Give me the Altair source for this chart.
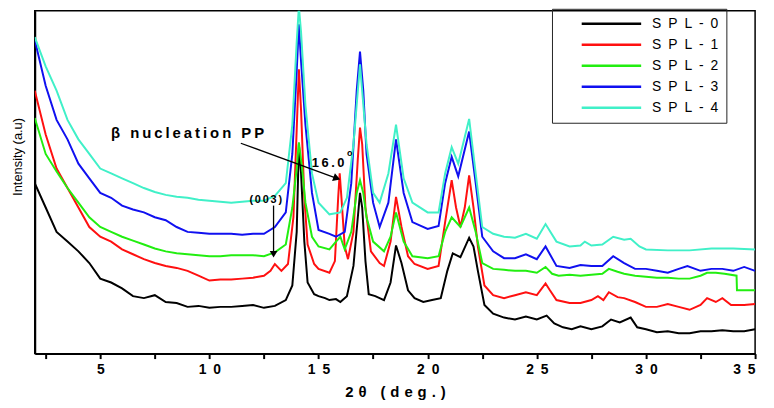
import altair as alt
import pandas as pd

SERIES = ["SPL-0", "SPL-1", "SPL-2", "SPL-3", "SPL-4"]
COLORS = ["#000000", "#ff1010", "#22ee10", "#1010f0", "#40f0c8"]

spl0 = [(2,175),(2.5,150),(3,125),(3.5,115),(4,105),(4.5,93),(5,77),(5.5,73),(6,67),(6.5,59),(7,57),(7.5,60),
        (8,53),(8.5,52),(9,48),(9.5,49),(10,47),(10.5,48),(11,48),(11.5,49),(12,50),(12.5,47),(13,49),(13.5,55),
        (13.8,70),(14.0,125),(14.1,215),(14.2,185),(14.35,115),(14.5,73),(14.8,61),(15,59),(15.3,57),(15.5,55),
        (15.8,56),(16,53),(16.3,59),(16.6,90),(16.8,140),(16.9,165),(17.0,150),(17.15,95),(17.3,61),(17.6,59),
        (18,55),(18.3,73),(18.55,111),(18.8,93),(19.1,65),(19.4,57),(19.8,53),(20.2,55),(20.6,57),(20.9,85),
        (21.15,103),(21.5,99),(21.9,119),(22.1,110),(22.3,85),(22.6,50),(23,41),(23.5,37),(24,35),(24.5,38),
        (25,35),(25.45,39),(25.8,31),(26.2,27),(26.6,25),(27,28),(27.5,25),(28,28),(28.4,35),(28.8,32),(29.3,37),
        (29.6,27),(30,25),(30.5,22),(31,23),(31.5,21),(32,21),(32.5,23),(33,23),(33.5,24),(34,23),(34.5,23),(35,25)]

spl1 = [(2,270),(2.5,225),(3,190),(3.5,170),(4,150),(4.5,130),(5,120),(5.5,115),(6,107),(6.5,102),(7,97),(7.5,93),
        (8,90),(8.5,88),(9,85),(9.5,80),(10,75),(10.5,76),(11,76),(11.5,77),(12,78),(12.5,80),(12.8,85),(13,92),
        (13.3,85),(13.6,92),(13.85,140),(14.0,230),(14.1,292),(14.2,250),(14.35,160),(14.5,112),(14.8,92),(15,87),
        (15.5,83),(15.75,95),(15.9,160),(15.97,185),(16.05,160),(16.2,110),(16.35,97),(16.6,125),(16.8,200),
        (16.9,232),(17.0,215),(17.15,150),(17.4,105),(17.8,93),(18,90),(18.3,115),(18.55,161),(18.8,130),(19.1,100),
        (19.4,92),(20,87),(20.5,90),(20.8,135),(21.1,178),(21.3,150),(21.5,130),(21.7,150),(21.9,183),(22.1,150),
        (22.3,110),(22.6,70),(23,60),(23.5,57),(24,60),(24.5,63),(25,60),(25.4,72),(25.6,65),(25.9,55),(26.5,52),
        (27,52),(27.5,55),(27.8,59),(28.05,55),(28.3,63),(28.7,58),(29,57),(29.5,53),(30,48),(30.5,48),(31,51),
        (31.5,48),(32,45),(32.5,50),(32.8,57),(33.2,53),(33.5,57),(33.9,50),(34.5,50),(35,51)]

spl2 = [(2,242),(2.5,205),(3,187),(3.5,170),(4,155),(4.5,140),(5,130),(5.5,125),(6,120),(6.5,116),(7,112),(7.5,108),
        (8,105),(8.5,103),(9,102),(9.5,101),(10,100),(10.5,100),(11,101),(11.5,101),(12,101),(12.5,100),(13,104),
        (13.5,112),(13.8,150),(14.0,190),(14.1,217),(14.25,190),(14.4,155),(14.7,120),(15,110),(15.5,107),(15.8,115),
        (16.0,120),(16.2,107),(16.5,125),(16.75,165),(16.9,178),(17.05,165),(17.2,140),(17.5,115),(18,105),(18.3,120),
        (18.55,145),(18.9,115),(19.3,100),(20,98),(20.5,100),(20.8,125),(21.1,140),(21.5,130),(21.9,150),(22.2,125),
        (22.5,93),(23,87),(23.5,86),(24,85),(24.5,85),(25,83),(25.4,89),(25.7,82),(26,80),(26.5,81),(27,80),(27.5,81),
        (28,82),(28.3,87),(28.7,84),(29,82),(29.5,80),(30,79),(30.5,78),(31,78),(31.5,77),(32,77),(32.5,80),(32.8,83),
        (33.2,83),(33.6,82),(34.15,80),(34.17,65),(35,65)]

spl3 = [(2,322),(2.5,275),(3,240),(3.5,220),(4,195),(4.5,180),(5,165),(5.5,160),(6,152),(6.5,148),(7,145),(7.5,140),
        (8,137),(8.5,130),(9,125),(9.5,124),(10,123),(10.5,123),(11,123),(11.5,122),(12,123),(12.5,123),(13,130),
        (13.5,145),(13.8,205),(14.0,290),(14.1,338),(14.2,300),(14.4,235),(14.7,165),(15,127),(15.5,123),(15.8,120),
        (16.2,125),(16.5,175),(16.75,270),(16.9,310),(17.05,270),(17.2,205),(17.5,155),(17.8,130),(18.2,155),
        (18.55,220),(18.9,165),(19.3,135),(20,128),(20.5,131),(20.8,175),(21.1,202),(21.4,182),(21.9,228),(22.2,175),
        (22.5,120),(23,105),(23.5,98),(24,98),(24.5,102),(25,97),(25.4,110),(25.9,90),(26.5,88),(27,91),(27.5,90),
        (28,90),(28.5,100),(29,93),(29.5,87),(30,87),(30.5,85),(31,83),(31.5,87),(31.9,90),(32.5,85),(33,87),
        (33.5,87),(34,85),(34.5,89),(35,85)]

spl4 = [(2,325),(2.5,295),(3,270),(3.5,240),(4,220),(4.5,205),(5,190),(5.5,185),(6,180),(6.5,175),(7,170),(7.5,166),
        (8,163),(8.5,161),(9,160),(9.5,158),(10,157),(10.5,156),(11,155),(11.5,156),(12,157),(12.5,157),(13,162),
        (13.5,175),(13.8,235),(14.0,320),(14.1,356),(14.2,330),(14.4,255),(14.7,185),(15,155),(15.5,143),(16,145),
        (16.3,160),(16.6,215),(16.9,297),(17.2,215),(17.5,165),(17.8,155),(18.2,185),(18.55,235),(18.9,180),
        (19.3,155),(20,145),(20.5,145),(20.8,185),(21.1,212),(21.4,195),(21.9,241),(22.2,185),(22.5,130),(23,123),
        (23.5,120),(24,119),(24.5,123),(25,118),(25.4,133),(25.9,115),(26.5,110),(27,111),(27.2,115),(27.5,111),
        (28,112),(28.5,120),(29,117),(29.3,118),(29.7,110),(30,107),(31,106),(32,106),(33,108),(34,108),(35,107)]

X_TICKS = [2.5, 5, 7.5, 10, 12.5, 15, 17.5, 20, 22.5, 25, 27.5, 30, 32.5, 35]

# annotations (data coordinates)
BETA_TEXT = "β nucleation PP"
BETA_POS = (9.0, 226)
PEAK_TEXT = "16.0"
PEAK_POS = (15.44, 196)
DEG_POS = (16.43, 206)
HKL_TEXT = "(003)"
HKL_POS = (12.58, 158)
BETA_ARROW_X = [11.44, 15.84]
BETA_ARROW_Y = [216, 180]
HKL_ARROW_X = [12.94, 12.94]
HKL_ARROW_Y = [152, 102]
X_TITLE = "2θ (deg.)"
Y_TITLE = "Intensity (a.u)"


def spread(s, gap):
    return gap.join(list(s))


rows = []
for name, pts in zip(SERIES, [spl0, spl1, spl2, spl3, spl4]):
    for i, (x, y) in enumerate(pts):
        rows.append({"series": name, "two_theta": x, "intensity": y, "order": i})
df = pd.DataFrame(rows)

xs = alt.Scale(domain=[2, 35], nice=False, zero=False)
ys = alt.Scale(domain=[0, 352], nice=False, zero=False)
FONT = "Liberation Sans"

lines = alt.Chart(df).mark_line(strokeWidth=2, clip=True).encode(
    x=alt.X("two_theta:Q", scale=xs,
            axis=alt.Axis(values=X_TICKS, grid=False, tickSize=5, tickWidth=2, tickColor="black",
                          domainColor="black", domainWidth=2, labelFont=FONT, labelFontSize=14,
                          labelFontWeight="bold", labelColor="black", labelPadding=4, labelOverlap=False,
                          labelExpr="datum.value % 5 == 0 ? join(split(datum.label, ''), '\u2002') : ''",
                          title=spread(X_TITLE, "\u2004"), titleFont=FONT, titleFontSize=15,
                          titleFontWeight="bold", titleColor="black", titlePadding=8)),
    y=alt.Y("intensity:Q", scale=ys,
            axis=alt.Axis(ticks=False, labels=False, grid=False, domainColor="black", domainWidth=2,
                          title=Y_TITLE, titleFont=FONT, titleFontSize=13, titleFontWeight="normal",
                          titleColor="black", titleX=-10, titleY=147, titleBaseline="bottom")),
    color=alt.Color("series:N", scale=alt.Scale(domain=SERIES, range=COLORS),
                    legend=alt.Legend(title=None, orient="none", legendX=522, legendY=-2,
                                      symbolType="M-15,0H15", symbolSize=16, symbolStrokeWidth=2.5,
                                      symbolOffset=45, labelOffset=34, padding=8, rowPadding=7.2,
                                      strokeColor="#222222", labelFont=FONT, labelFontSize=14,
                                      labelColor="black",
                                      labelExpr="join(split(datum.label, ''), '\u2002') + '\u2002\u2002\u2002\u2002'")),
    order="order:Q",
)

arrows_df = pd.DataFrame({
    "arrow": ["beta", "beta", "hkl", "hkl"],
    "x": BETA_ARROW_X + HKL_ARROW_X,
    "y": BETA_ARROW_Y + HKL_ARROW_Y,
})
arrow_lines = alt.Chart(arrows_df).mark_line(color="black", strokeWidth=1.3).encode(
    x=alt.X("x:Q", scale=xs), y=alt.Y("y:Q", scale=ys), detail="arrow:N")

beta_head = alt.Chart(pd.DataFrame({"x": [BETA_ARROW_X[1]], "y": [BETA_ARROW_Y[1]]})).mark_point(
    shape="triangle-right", filled=True, color="black", size=70, angle=20, opacity=1).encode(
    x=alt.X("x:Q", scale=xs), y=alt.Y("y:Q", scale=ys))
hkl_head = alt.Chart(pd.DataFrame({"x": [HKL_ARROW_X[1]], "y": [HKL_ARROW_Y[1]]})).mark_point(
    shape="triangle-down", filled=True, color="black", size=60, opacity=1).encode(
    x=alt.X("x:Q", scale=xs), y=alt.Y("y:Q", scale=ys))

beta_text = alt.Chart(pd.DataFrame({"x": [BETA_POS[0]], "y": [BETA_POS[1]],
                                    "t": [spread(BETA_TEXT, "\u2009")]})).mark_text(
    font=FONT, fontSize=15, fontWeight="bold", color="black", align="center", baseline="middle").encode(
    x=alt.X("x:Q", scale=xs), y=alt.Y("y:Q", scale=ys), text="t:N")
peak_text = alt.Chart(pd.DataFrame({"x": [PEAK_POS[0]], "y": [PEAK_POS[1]],
                                    "t": [spread(PEAK_TEXT, "\u2009")]})).mark_text(
    font=FONT, fontSize=13, fontWeight="bold", color="black", align="center", baseline="middle").encode(
    x=alt.X("x:Q", scale=xs), y=alt.Y("y:Q", scale=ys), text="t:N")
deg_text = alt.Chart(pd.DataFrame({"x": [DEG_POS[0]], "y": [DEG_POS[1]], "t": ["o"]})).mark_text(
    font=FONT, fontSize=9, fontWeight="bold", color="black", align="center", baseline="middle").encode(
    x=alt.X("x:Q", scale=xs), y=alt.Y("y:Q", scale=ys), text="t:N")
hkl_text = alt.Chart(pd.DataFrame({"x": [HKL_POS[0]], "y": [HKL_POS[1]],
                                   "t": [spread(HKL_TEXT, "\u2006")]})).mark_text(
    font=FONT, fontSize=11, fontWeight="bold", color="black", align="center", baseline="middle").encode(
    x=alt.X("x:Q", scale=xs), y=alt.Y("y:Q", scale=ys), text="t:N")

chart = alt.layer(lines, arrow_lines, beta_head, hkl_head, beta_text, peak_text, deg_text, hkl_text).properties(
    width=727, height=346,
    autosize=alt.AutoSizeParams(type="none"),
    padding={"left": 27, "top": 1, "right": 11, "bottom": 45},
).configure_view(stroke="black", strokeWidth=1.5)

chart.save("out.html", embed_options={"renderer": "svg", "actions": False})
